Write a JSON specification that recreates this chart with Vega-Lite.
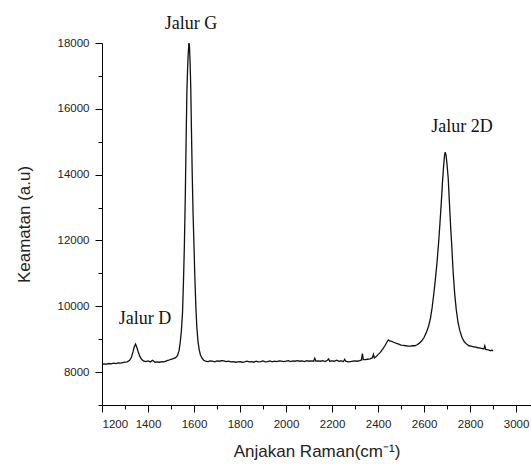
{
  "$schema": "https://vega.github.io/schema/vega-lite/v6.json",
  "width": 429,
  "height": 362,
  "autosize": {"type": "none"},
  "padding": {"left": 102, "top": 43, "right": 0, "bottom": 62},
  "background": "white",
  "config": {
    "view": {"stroke": null},
    "axis": {
      "domainColor": "#000",
      "tickColor": "#000",
      "labelFont": "Liberation Sans",
      "labelFontSize": 11.5,
      "labelColor": "#222",
      "titleFont": "Liberation Sans",
      "titleFontSize": 17,
      "titleFontWeight": "normal",
      "titleColor": "#222",
      "grid": false
    }
  },
  "datasets": {
    "spectrum": [
      {"x":1200,"y":8230},{"x":1210,"y":8250},{"x":1220,"y":8240},{"x":1230,"y":8260},{"x":1240,"y":8250},
      {"x":1250,"y":8270},{"x":1260,"y":8260},{"x":1270,"y":8280},{"x":1280,"y":8270},{"x":1290,"y":8290},
      {"x":1300,"y":8300},{"x":1310,"y":8310},{"x":1320,"y":8360},{"x":1328,"y":8450},{"x":1335,"y":8620},
      {"x":1340,"y":8760},{"x":1346,"y":8850},{"x":1352,"y":8740},{"x":1358,"y":8600},{"x":1365,"y":8470},
      {"x":1372,"y":8390},{"x":1380,"y":8340},{"x":1390,"y":8320},{"x":1400,"y":8340},{"x":1410,"y":8310},
      {"x":1420,"y":8360},{"x":1425,"y":8330},{"x":1430,"y":8300},{"x":1440,"y":8310},{"x":1450,"y":8300},
      {"x":1460,"y":8320},{"x":1470,"y":8310},{"x":1480,"y":8340},{"x":1490,"y":8360},{"x":1500,"y":8390},
      {"x":1510,"y":8410},{"x":1520,"y":8440},{"x":1528,"y":8500},{"x":1535,"y":8650},{"x":1540,"y":8900},
      {"x":1545,"y":9250},{"x":1550,"y":9800},{"x":1554,"y":10700},{"x":1558,"y":11800},{"x":1562,"y":13300},
      {"x":1566,"y":15200},{"x":1569,"y":16500},{"x":1572,"y":17200},{"x":1575,"y":17700},{"x":1578,"y":18000},
      {"x":1580,"y":17950},{"x":1583,"y":17400},{"x":1586,"y":16600},{"x":1589,"y":15300},{"x":1592,"y":14100},
      {"x":1596,"y":12800},{"x":1600,"y":11800},{"x":1604,"y":10800},{"x":1608,"y":10000},{"x":1612,"y":9400},
      {"x":1617,"y":8950},{"x":1622,"y":8700},{"x":1628,"y":8520},{"x":1635,"y":8420},{"x":1642,"y":8360},
      {"x":1650,"y":8330},{"x":1660,"y":8320},{"x":1670,"y":8340},{"x":1680,"y":8330},{"x":1690,"y":8310},
      {"x":1700,"y":8340},{"x":1710,"y":8330},{"x":1720,"y":8350},{"x":1730,"y":8340},{"x":1740,"y":8320},
      {"x":1750,"y":8330},{"x":1760,"y":8310},{"x":1770,"y":8320},{"x":1780,"y":8300},{"x":1790,"y":8310},
      {"x":1800,"y":8320},{"x":1810,"y":8300},{"x":1820,"y":8310},{"x":1830,"y":8330},{"x":1840,"y":8310},
      {"x":1850,"y":8320},{"x":1860,"y":8300},{"x":1870,"y":8330},{"x":1880,"y":8310},{"x":1890,"y":8320},
      {"x":1900,"y":8340},{"x":1910,"y":8310},{"x":1920,"y":8320},{"x":1930,"y":8340},{"x":1940,"y":8310},
      {"x":1950,"y":8330},{"x":1960,"y":8320},{"x":1970,"y":8340},{"x":1980,"y":8330},{"x":1990,"y":8320},
      {"x":2000,"y":8330},{"x":2010,"y":8350},{"x":2020,"y":8320},{"x":2030,"y":8340},{"x":2040,"y":8330},
      {"x":2050,"y":8350},{"x":2060,"y":8330},{"x":2070,"y":8340},{"x":2080,"y":8320},{"x":2090,"y":8350},
      {"x":2100,"y":8330},{"x":2110,"y":8340},{"x":2120,"y":8330},{"x":2125,"y":8420},{"x":2130,"y":8330},
      {"x":2140,"y":8340},{"x":2150,"y":8330},{"x":2160,"y":8350},{"x":2170,"y":8320},{"x":2180,"y":8360},
      {"x":2185,"y":8400},{"x":2190,"y":8330},{"x":2200,"y":8340},{"x":2210,"y":8330},{"x":2220,"y":8360},
      {"x":2230,"y":8330},{"x":2240,"y":8340},{"x":2250,"y":8320},{"x":2255,"y":8390},{"x":2260,"y":8330},
      {"x":2270,"y":8310},{"x":2280,"y":8320},{"x":2290,"y":8330},{"x":2300,"y":8340},{"x":2310,"y":8330},
      {"x":2320,"y":8350},{"x":2328,"y":8370},{"x":2332,"y":8560},{"x":2336,"y":8380},{"x":2345,"y":8380},
      {"x":2355,"y":8390},{"x":2365,"y":8400},{"x":2375,"y":8430},{"x":2380,"y":8540},{"x":2384,"y":8430},
      {"x":2392,"y":8470},{"x":2400,"y":8530},{"x":2410,"y":8600},{"x":2420,"y":8700},{"x":2430,"y":8800},
      {"x":2440,"y":8930},{"x":2445,"y":8980},{"x":2450,"y":8950},{"x":2460,"y":8930},{"x":2470,"y":8900},
      {"x":2480,"y":8870},{"x":2490,"y":8850},{"x":2500,"y":8820},{"x":2510,"y":8810},{"x":2520,"y":8800},
      {"x":2530,"y":8790},{"x":2540,"y":8790},{"x":2550,"y":8800},{"x":2560,"y":8800},{"x":2570,"y":8830},
      {"x":2580,"y":8880},{"x":2590,"y":8950},{"x":2600,"y":9050},{"x":2610,"y":9200},{"x":2620,"y":9400},
      {"x":2628,"y":9640},{"x":2635,"y":9950},{"x":2642,"y":10350},{"x":2649,"y":10800},{"x":2656,"y":11300},
      {"x":2663,"y":11900},{"x":2669,"y":12500},{"x":2675,"y":13150},{"x":2680,"y":13750},{"x":2685,"y":14250},
      {"x":2689,"y":14580},{"x":2692,"y":14680},{"x":2696,"y":14580},{"x":2700,"y":14300},{"x":2705,"y":13900},
      {"x":2710,"y":13200},{"x":2715,"y":12500},{"x":2720,"y":11900},{"x":2726,"y":11100},{"x":2733,"y":10400},
      {"x":2740,"y":9900},{"x":2748,"y":9500},{"x":2756,"y":9250},{"x":2765,"y":9050},{"x":2775,"y":8920},
      {"x":2785,"y":8850},{"x":2795,"y":8800},{"x":2805,"y":8790},{"x":2815,"y":8770},{"x":2825,"y":8760},
      {"x":2835,"y":8740},{"x":2845,"y":8730},{"x":2855,"y":8710},{"x":2860,"y":8700},{"x":2864,"y":8800},
      {"x":2868,"y":8690},{"x":2875,"y":8680},{"x":2885,"y":8660},{"x":2890,"y":8650},{"x":2895,"y":8670},
      {"x":2900,"y":8640}
    ],
    "labels": [
      {"x":1587,"y":18576,"label":"Jalur G"},
      {"x":2765,"y":15439,"label":"Jalur 2D"},
      {"x":1387,"y":9606,"label":"Jalur D"}
    ]
  },
  "layer": [
    {
      "data": {"name": "spectrum"},
      "mark": {"type": "line", "color": "#111", "strokeWidth": 1.3, "clip": true},
      "encoding": {
        "x": {
          "field": "x", "type": "quantitative",
          "scale": {"domain": [1200, 3065], "nice": false, "zero": false},
          "axis": {
            "orient": "bottom",
            "values": [1200,1400,1600,1800,2000,2200,2400,2600,2800,3000],
            "tickSize": 7, "labelPadding": 6, "format": "d",
            "title": "Anjakan Raman(cm⁻¹)", "titlePadding": 14
          }
        },
        "y": {
          "field": "y", "type": "quantitative",
          "scale": {"domain": [7000, 18000], "nice": false, "zero": false},
          "axis": {
            "orient": "left",
            "values": [8000,10000,12000,14000,16000,18000],
            "tickSize": 7, "labelPadding": 6, "format": "d",
            "title": "Keamatan (a.u)", "titlePadding": 24
          }
        }
      }
    },
    {
      "data": {"name": "labels"},
      "mark": {"type": "text", "font": "Liberation Serif", "fontSize": 18, "color": "#111", "baseline": "middle", "align": "center"},
      "encoding": {
        "x": {
          "field": "x", "type": "quantitative",
          "scale": {"domain": [1200, 3065], "nice": false, "zero": false},
          "axis": {
            "orient": "bottom",
            "values": [1300,1500,1700,1900,2100,2300,2500,2700,2900],
            "tickSize": 4, "labels": false, "domain": false, "title": null
          }
        },
        "y": {
          "field": "y", "type": "quantitative",
          "scale": {"domain": [7000, 18000], "nice": false, "zero": false},
          "axis": {
            "orient": "left",
            "values": [7000,9000,11000,13000,15000,17000],
            "tickSize": 4, "labels": false, "domain": false, "title": null
          }
        },
        "text": {"field": "label"}
      }
    }
  ],
  "resolve": {"axis": {"x": "independent", "y": "independent"}}
}
